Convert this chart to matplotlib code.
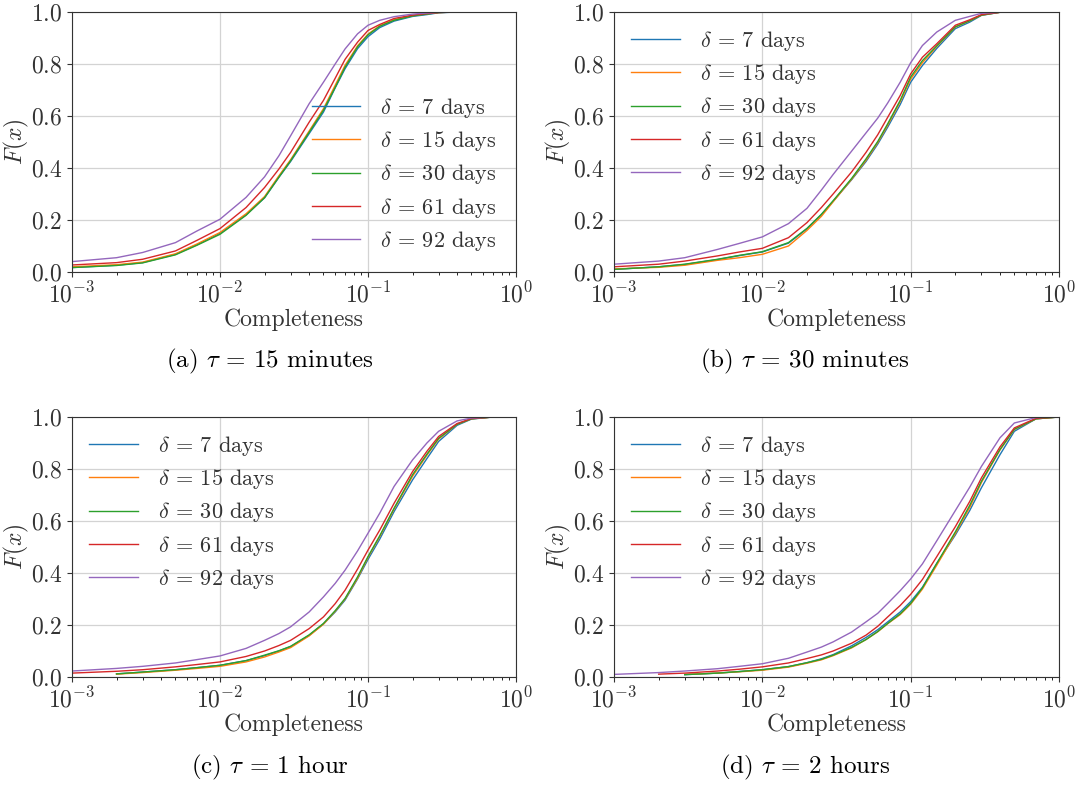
import numpy as np
import matplotlib
matplotlib.use("Agg")
import matplotlib.pyplot as plt

plt.rcParams["font.family"] = "cmr10"
plt.rcParams["mathtext.fontset"] = "cm"
plt.rcParams["axes.formatter.use_mathtext"] = True
plt.rcParams["axes.unicode_minus"] = False

nan = np.nan

# Legend labels (deltas) and panel captions
deltas = [7, 15, 30, 61, 92]
captions = [r"(a) $\tau$ = 15 minutes", r"(b) $\tau$ = 30 minutes",
            r"(c) $\tau$ = 1 hour", r"(d) $\tau$ = 2 hours"]

# Completeness sample points
x_pts = [1e-3, 2e-3, 3e-3, 5e-3, 7e-3, 1e-2, 1.5e-2, 2e-2, 2.5e-2, 3e-2,
         4e-2, 5e-2, 6e-2, 7e-2, 8.5e-2, 0.1, 0.12, 0.15, 0.2, 0.25,
         0.3, 0.4, 0.5, 0.7, 1.0]

# (a) tau = 15 minutes: one list per delta (7, 15, 30, 61, 92)
cdf_a = [
    [0.017, 0.026, 0.036, 0.068, 0.105, 0.149, 0.220, 0.285, 0.364, 0.425, 0.532, 0.615, 0.708, 0.782, 0.859, 0.905, 0.940, 0.965, 0.983, 0.990, 0.997, 1.0, 1.0, nan, nan],
    [0.020, 0.028, 0.038, 0.070, 0.108, 0.152, 0.224, 0.290, 0.370, 0.432, 0.542, 0.628, 0.718, 0.795, 0.870, 0.915, 0.947, 0.970, 0.986, 0.993, 0.998, 1.0, 1.0, nan, nan],
    [0.017, 0.025, 0.035, 0.066, 0.103, 0.145, 0.218, 0.286, 0.365, 0.428, 0.537, 0.622, 0.710, 0.788, 0.866, 0.912, 0.945, 0.968, 0.985, 0.992, 0.998, 1.0, 1.0, nan, nan],
    [0.027, 0.036, 0.049, 0.081, 0.122, 0.167, 0.248, 0.325, 0.396, 0.460, 0.576, 0.660, 0.745, 0.818, 0.884, 0.929, 0.952, 0.975, 0.988, 0.994, 0.998, 1.0, 1.0, nan, nan],
    [0.040, 0.055, 0.075, 0.113, 0.158, 0.203, 0.287, 0.366, 0.447, 0.524, 0.647, 0.730, 0.800, 0.858, 0.916, 0.949, 0.968, 0.982, 0.992, 0.996, 0.999, 1.0, 1.0, nan, nan],
]

# (b) tau = 30 minutes
cdf_b = [
    [0.010, 0.020, 0.029, 0.048, 0.063, 0.077, 0.111, 0.166, 0.220, 0.272, 0.355, 0.425, 0.492, 0.557, 0.644, 0.730, 0.794, 0.860, 0.936, 0.961, 0.987, 0.999, 1.0, 1.0, 1.0],
    [0.012, 0.018, 0.026, 0.045, 0.055, 0.068, 0.100, 0.160, 0.214, 0.270, 0.357, 0.430, 0.498, 0.565, 0.655, 0.742, 0.805, 0.868, 0.942, 0.966, 0.988, 0.999, 1.0, 1.0, 1.0],
    [0.010, 0.020, 0.030, 0.049, 0.064, 0.078, 0.113, 0.168, 0.222, 0.274, 0.360, 0.435, 0.502, 0.570, 0.660, 0.750, 0.813, 0.870, 0.943, 0.966, 0.988, 0.999, 1.0, 1.0, 1.0],
    [0.020, 0.030, 0.042, 0.062, 0.077, 0.091, 0.132, 0.190, 0.248, 0.300, 0.385, 0.460, 0.528, 0.595, 0.679, 0.762, 0.826, 0.878, 0.949, 0.970, 0.990, 0.999, 1.0, 1.0, 1.0],
    [0.030, 0.042, 0.055, 0.087, 0.110, 0.135, 0.186, 0.245, 0.315, 0.375, 0.465, 0.535, 0.592, 0.650, 0.730, 0.805, 0.871, 0.923, 0.968, 0.983, 0.995, 0.999, 1.0, 1.0, 1.0],
]

# (c) tau = 1 hour
cdf_c = [
    [nan, 0.012, 0.019, 0.028, 0.036, 0.045, 0.063, 0.082, 0.100, 0.117, 0.160, 0.204, 0.250, 0.296, 0.377, 0.452, 0.530, 0.636, 0.758, 0.840, 0.906, 0.968, 0.992, 1.0, 1.0],
    [nan, 0.011, 0.017, 0.026, 0.033, 0.041, 0.058, 0.077, 0.096, 0.113, 0.158, 0.203, 0.253, 0.300, 0.380, 0.460, 0.540, 0.646, 0.772, 0.853, 0.915, 0.972, 0.993, 1.0, 1.0],
    [nan, 0.012, 0.019, 0.028, 0.036, 0.045, 0.063, 0.084, 0.101, 0.118, 0.162, 0.206, 0.255, 0.302, 0.385, 0.463, 0.543, 0.649, 0.778, 0.857, 0.918, 0.972, 0.993, 1.0, 1.0],
    [0.015, 0.022, 0.028, 0.039, 0.048, 0.058, 0.079, 0.100, 0.121, 0.141, 0.186, 0.231, 0.282, 0.334, 0.415, 0.488, 0.565, 0.668, 0.790, 0.868, 0.925, 0.975, 0.994, 1.0, 1.0],
    [0.023, 0.033, 0.041, 0.054, 0.067, 0.081, 0.110, 0.141, 0.167, 0.193, 0.250, 0.308, 0.360, 0.411, 0.485, 0.553, 0.630, 0.733, 0.835, 0.900, 0.945, 0.985, 0.996, 1.0, 1.0],
]

# (d) tau = 2 hours
cdf_d = [
    [nan, nan, 0.009, 0.015, 0.021, 0.028, 0.040, 0.055, 0.070, 0.086, 0.120, 0.152, 0.182, 0.212, 0.250, 0.290, 0.345, 0.437, 0.546, 0.640, 0.728, 0.855, 0.945, 0.993, 1.0],
    [nan, nan, 0.010, 0.015, 0.020, 0.026, 0.038, 0.053, 0.066, 0.082, 0.112, 0.144, 0.174, 0.205, 0.240, 0.280, 0.338, 0.430, 0.552, 0.652, 0.748, 0.873, 0.952, 0.993, 1.0],
    [nan, nan, 0.009, 0.015, 0.021, 0.028, 0.040, 0.055, 0.068, 0.084, 0.114, 0.144, 0.175, 0.206, 0.243, 0.283, 0.343, 0.437, 0.558, 0.660, 0.753, 0.875, 0.953, 0.993, 1.0],
    [nan, 0.011, 0.015, 0.023, 0.030, 0.039, 0.054, 0.071, 0.085, 0.100, 0.130, 0.161, 0.195, 0.231, 0.275, 0.318, 0.375, 0.463, 0.578, 0.675, 0.766, 0.885, 0.958, 0.995, 1.0],
    [0.010, 0.017, 0.023, 0.032, 0.041, 0.051, 0.072, 0.096, 0.115, 0.135, 0.173, 0.212, 0.245, 0.283, 0.332, 0.377, 0.435, 0.524, 0.640, 0.730, 0.810, 0.920, 0.977, 0.998, 1.0],
]

colors = ["#1f77b4", "#ff7f0e", "#2ca02c", "#d62728", "#9467bd"]

fig = plt.figure(figsize=(10.77, 7.85), dpi=100)
W, H = 1077.0, 785.0
# axes boxes in pixels: left, top, right, bottom
boxes = [(72, 12, 516, 272), (614, 12, 1059, 272),
         (72, 417, 516, 677), (614, 417, 1059, 677)]
cap_pos = [(270, 361), (805, 361), (270, 767), (805, 767)]
legend_loc = ["lower right", "upper left", "upper left", "upper left"]

for i, cdfs in enumerate([cdf_a, cdf_b, cdf_c, cdf_d]):
    l, t, r, b = boxes[i]
    ax = fig.add_axes([l / W, 1 - b / H, (r - l) / W, (b - t) / H])
    for d, y, c in zip(deltas, cdfs, colors):
        ax.plot(x_pts, y, color=c, lw=1.0, label=r"$\delta$ = %d days" % d)
    ax.set_xscale("log")
    ax.set_xlim(1e-3, 1)
    ax.set_ylim(0, 1)
    ax.set_yticks([0, 0.2, 0.4, 0.6, 0.8, 1.0])
    ax.grid(True, which="major", color="#d3d3d3", lw=0.9)
    ax.set_axisbelow(True)
    ax.tick_params(labelsize=17, colors="#333333", labelcolor="#333333")
    for s in ax.spines.values():
        s.set_color("#333333")
    ax.set_xlabel("Completeness", fontsize=17, color="#333333", labelpad=1)
    ax.set_ylabel(r"$F(x)$", fontsize=17, color="#333333", labelpad=0)
    leg = ax.legend(loc=legend_loc[i], frameon=False, fontsize=16,
                    handlelength=2.2, handletextpad=0.9, labelspacing=0.42,
                    borderaxespad=0.45 if i == 0 else 0.35)
    for txt in leg.get_texts():
        txt.set_color("#333333")
    cx, cy = cap_pos[i]
    fig.text(cx / W, 1 - cy / H, captions[i], fontsize=18, ha="center", va="center")

fig.savefig("out.png", dpi=100)
